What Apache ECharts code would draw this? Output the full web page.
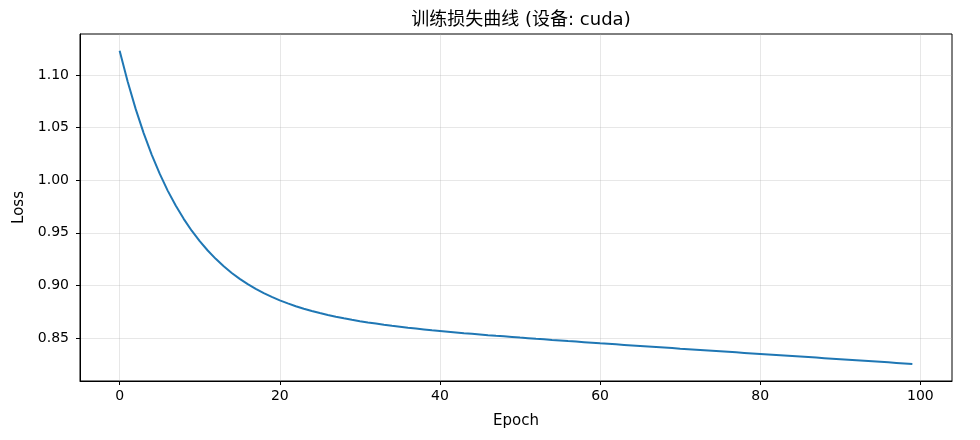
<!DOCTYPE html>
<html>
<head>
<meta charset="utf-8">
<script src="https://cdn.jsdelivr.net/npm/echarts@6/dist/echarts.min.js"></script>
<style>
html,body{margin:0;padding:0;background:#fff;}
#chart{width:980px;height:440px;}
</style>
</head>
<body>
<div id="chart"></div>
<script>
const epochs = Array.from({length: 100}, (_, i) => i);
const lossValues = [
1.1230,1.0937,1.0677,1.0447,1.0243,1.0062,0.9901,0.9759,0.9633,0.9520,
0.9421,0.9332,0.9253,0.9182,0.9119,0.9063,0.9013,0.8968,0.8928,0.8892,
0.8859,0.8830,0.8803,0.8779,0.8758,0.8738,0.8720,0.8703,0.8688,0.8674,
0.8661,0.8649,0.8638,0.8627,0.8617,0.8608,0.8599,0.8591,0.8583,0.8575,
0.8568,0.8561,0.8554,0.8547,0.8541,0.8535,0.8528,0.8522,0.8517,0.8511,
0.8505,0.8500,0.8494,0.8489,0.8483,0.8478,0.8472,0.8467,0.8462,0.8457,
0.8451,0.8446,0.8441,0.8436,0.8431,0.8426,0.8421,0.8416,0.8411,0.8406,
0.8400,0.8395,0.8390,0.8385,0.8380,0.8375,0.8370,0.8365,0.8360,0.8355,
0.8350,0.8345,0.8340,0.8335,0.8330,0.8325,0.8320,0.8315,0.8310,0.8305,
0.8300,0.8295,0.8290,0.8285,0.8280,0.8275,0.8270,0.8265,0.8260,0.8255
];
const xTicks = [0, 20, 40, 60, 80, 100];
const yTicks = [0.85, 0.90, 0.95, 1.00, 1.05, 1.10];
const titleText = '训练损失曲线 (设备: cuda)';
const xName = 'Epoch';
const yName = 'Loss';

const font = 'DejaVu Sans, Noto Sans CJK SC, sans-serif';
const chart = echarts.init(document.getElementById('chart'), null, {renderer: 'canvas'});
const gridLine = {show: true, lineStyle: {color: 'rgba(176,176,176,0.3)', width: 1}};
chart.setOption({
  animation: false,
  backgroundColor: '#fff',
  title: {
    text: titleText,
    left: 516, top: 6, textAlign: 'center',
    textStyle: {fontFamily: font, fontSize: 18, fontWeight: 'normal', color: '#000'}
  },
  grid: {
    left: 80, right: 28, top: 34, bottom: 59,
    show: true, borderColor: '#000', borderWidth: 1, backgroundColor: 'transparent'
  },
  xAxis: {
    type: 'value',
    min: -4.95, max: 103.95,
    name: xName, nameLocation: 'middle', nameGap: 33,
    nameTextStyle: {fontFamily: font, fontSize: 15, color: '#000'},
    axisLine: {show: true, onZero: false, lineStyle: {color: '#000', width: 1}},
    axisTick: {show: true, length: 4, customValues: xTicks, lineStyle: {color: '#000'}},
    axisLabel: {customValues: xTicks, fontFamily: font, fontSize: 14, color: '#000', margin: 8},
    splitLine: gridLine
  },
  yAxis: {
    type: 'value',
    min: 0.8093, max: 1.1388,
    name: yName, nameLocation: 'middle', nameGap: 53, nameRotate: 90,
    nameTextStyle: {fontFamily: font, fontSize: 15, color: '#000'},
    axisLine: {show: true, onZero: false, lineStyle: {color: '#000', width: 1}},
    axisTick: {show: true, length: 4, customValues: yTicks, lineStyle: {color: '#000'}},
    axisLabel: {customValues: yTicks, fontFamily: font, fontSize: 14, color: '#000', margin: 11,
      formatter: v => v.toFixed(2)},
    splitLine: gridLine
  },
  series: [{
    type: 'line',
    data: epochs.map((e, i) => [e, lossValues[i]]),
    showSymbol: false,
    lineStyle: {color: '#1f77b4', width: 2},
    itemStyle: {color: '#1f77b4'}
  }]
});
</script>
</body>
</html>
